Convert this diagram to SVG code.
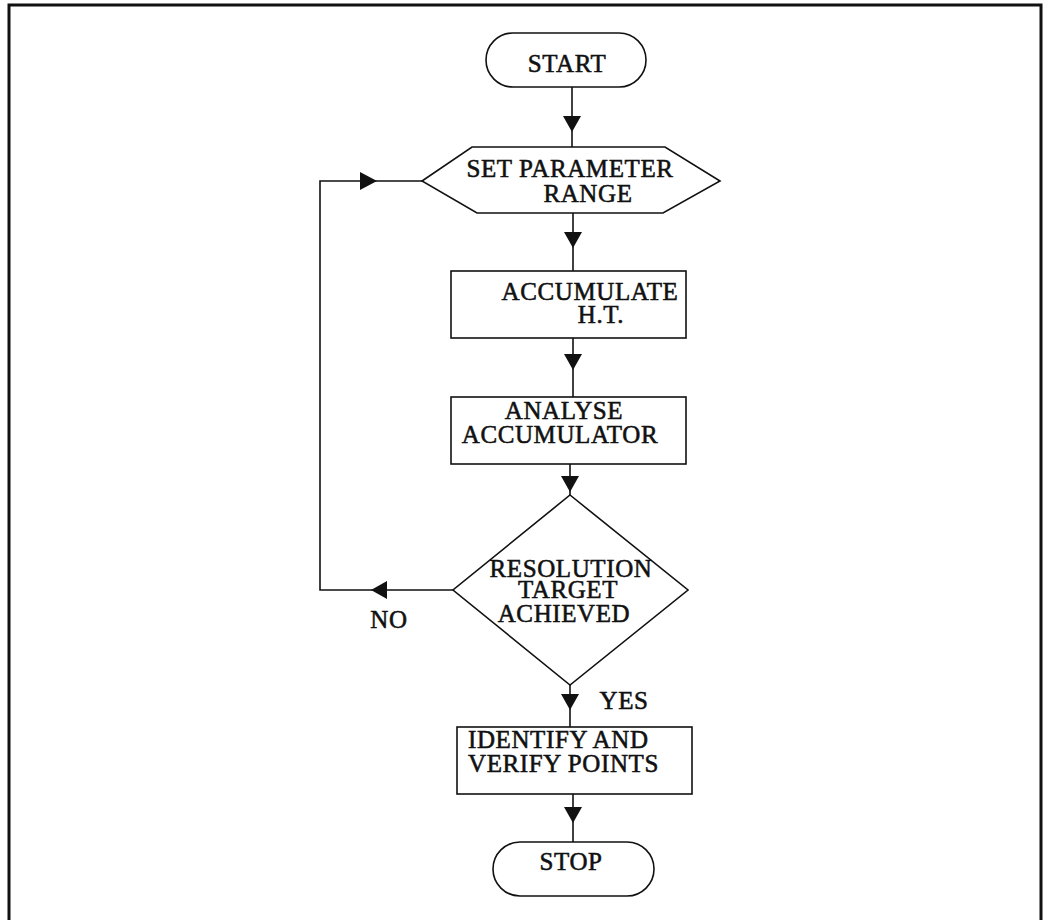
<svg xmlns="http://www.w3.org/2000/svg" width="1044" height="920" viewBox="0 0 1044 920">
  <style>
    .shape { fill: none; stroke: #111; stroke-width: 1.6; }
    .wire { fill: none; stroke: #111; stroke-width: 1.6; }
    .label { font-family: "Liberation Serif", "Times New Roman", serif; font-size: 25px; letter-spacing: 0.6px; fill: #111; stroke: #111; stroke-width: 0.55; }
    .frame { fill: none; stroke: #111; stroke-width: 3; }
  </style>
  <defs>
    <path id="head-down" d="M -9 0 L 9 0 L 0 16 Z" fill="#111"/>
  </defs>

  <rect width="1044" height="920" fill="#fff"/>
  <!-- outer frame, open at the bottom -->
  <path class="frame" d="M 9 922 L 9 5 L 1041 5 L 1041 922"/>

  <g id="connectors">
    <line class="wire" x1="572" y1="87" x2="572" y2="147"/>
    <use href="#head-down" x="572" y="116"/>
    <line class="wire" x1="573" y1="213" x2="573" y2="271"/>
    <use href="#head-down" x="573" y="232"/>
    <line class="wire" x1="573" y1="338" x2="573" y2="397"/>
    <use href="#head-down" x="573" y="354"/>
    <line class="wire" x1="570" y1="464" x2="570" y2="495"/>
    <use href="#head-down" x="570" y="476"/>
    <line class="wire" x1="570" y1="685" x2="570" y2="727"/>
    <use href="#head-down" x="570" y="694"/>
    <line class="wire" x1="573" y1="794" x2="573" y2="842"/>
    <use href="#head-down" x="573" y="807"/>
    <!-- NO branch loops back to the parameter range -->
    <polyline class="wire" points="453,590 320,590 320,181 422,181"/>
    <path d="M 387 581 L 387 599 L 371 590 Z" fill="#111"/>
    <path d="M 360 172 L 360 190 L 377 181 Z" fill="#111"/>
    <text class="label" x="389" y="628" text-anchor="middle">NO</text>
    <text class="label" x="624" y="709" text-anchor="middle">YES</text>
  </g>

  <g id="start">
    <rect class="shape" x="486" y="33" width="160" height="54" rx="27" ry="27"/>
    <text class="label" x="567" y="72" text-anchor="middle">START</text>
  </g>

  <g id="set-parameter-range">
    <polygon class="shape" points="472,147 665,147 720,181 663,213 477,213 422,181"/>
    <text class="label" x="570" y="177" text-anchor="middle">SET PARAMETER</text>
    <text class="label" x="588" y="202" text-anchor="middle">RANGE</text>
  </g>

  <g id="accumulate">
    <rect class="shape" x="451" y="271" width="235" height="67"/>
    <text class="label" x="590" y="300" text-anchor="middle">ACCUMULATE</text>
    <text class="label" x="601" y="323" text-anchor="middle">H.T.</text>
  </g>

  <g id="analyse">
    <rect class="shape" x="451" y="397" width="235" height="67"/>
    <text class="label" x="564" y="419" text-anchor="middle">ANALYSE</text>
    <text class="label" x="560" y="443" text-anchor="middle">ACCUMULATOR</text>
  </g>

  <g id="resolution-check">
    <polygon class="shape" points="570,495 688,590 570,685 453,590"/>
    <text class="label" x="571" y="577" text-anchor="middle">RESOLUTION</text>
    <text class="label" x="568" y="598" text-anchor="middle">TARGET</text>
    <text class="label" x="564" y="622" text-anchor="middle">ACHIEVED</text>
  </g>

  <g id="identify-verify">
    <rect class="shape" x="457" y="727" width="235" height="67"/>
    <text class="label" x="468" y="748">IDENTIFY AND</text>
    <text class="label" x="468" y="772">VERIFY POINTS</text>
  </g>

  <g id="stop">
    <rect class="shape" x="493" y="842" width="161" height="54" rx="27" ry="27"/>
    <text class="label" x="571" y="870" text-anchor="middle">STOP</text>
  </g>
</svg>
